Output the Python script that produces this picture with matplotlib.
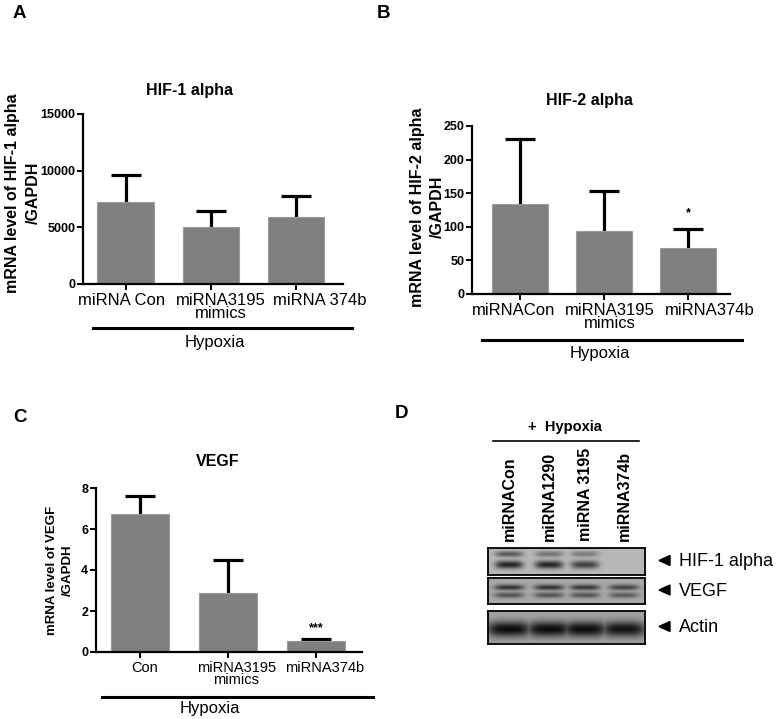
import numpy as np
import matplotlib
matplotlib.use("Agg")
import matplotlib.pyplot as plt
import matplotlib.transforms as mtransforms
from matplotlib.lines import Line2D
from matplotlib.patches import Polygon

plt.rcParams['font.family'] = ['Liberation Sans', 'DejaVu Sans']

W, H = 777, 719

# ---- data ----
hif1_labels = ["miRNA Con", "miRNA3195\nmimics", "miRNA 374b"]
hif1_means = [7200, 5000, 5900]
hif1_err = [2450, 1400, 1850]
hif1_ticks = [0, 5000, 10000, 15000]

hif2_labels = ["miRNACon", "miRNA3195\nmimics", "miRNA374b"]
hif2_means = [134, 94, 68]
hif2_err = [96, 59, 29]
hif2_ticks = [0, 50, 100, 150, 200, 250]
hif2_sig = ["", "", "*"]

vegf_labels = ["Con", "miRNA3195\nmimics", "miRNA374b"]
vegf_means = [6.75, 2.88, 0.52]
vegf_err = [0.85, 1.62, 0.11]
vegf_ticks = [0, 2, 4, 6, 8]
vegf_sig = ["", "", "***"]

lanes = ["miRNACon", "miRNA1290", "miRNA 3195", "miRNA374b"]
blot_names = ["HIF-1 alpha", "VEGF", "Actin"]
# band intensities per lane (0 = none, 1 = saturated)
hif1_bands = {"upper": [0.55, 0.40, 0.35, 0.0], "lower": [0.85, 0.85, 0.70, 0.0]}
vegf_bands = {"upper": [0.75, 0.75, 0.72, 0.65], "lower": [0.55, 0.55, 0.55, 0.50]}
actin_bands = {"main": [1.0, 1.0, 1.0, 0.95]}


def fbox(x0, y0, x1, y1):
    # pixel box (top-left origin) -> figure fraction rect
    return [x0 / W, 1 - y1 / H, (x1 - x0) / W, (y1 - y0) / H]


def fp(x, y):
    return x / W, 1 - y / H


fig = plt.figure(figsize=(W / 100, H / 100), dpi=100)


def bar_panel(rect, xlim, labels, lab_shift, xfs, means, errs, ticks, title, title_xy,
              ylabel, ylfs, ylab_xy, ylsp, sig=None, sig_off=0.0):
    ax = fig.add_axes(fbox(*rect))
    x = np.arange(len(means))
    ax.bar(x, means, width=0.66, color="#808080", edgecolor="#9a9a9a", linewidth=0.8, zorder=2)
    # symmetric bars drawn behind the columns: only the upper half shows
    ax.errorbar(x, means, yerr=errs, fmt="none", ecolor="black",
                elinewidth=2.3, capsize=11, capthick=2.3, zorder=1)
    if sig:
        for xi, m, e, s in zip(x, means, errs, sig):
            if s:
                ax.text(xi, m + e + sig_off, s, ha="center", va="center",
                        fontsize=9, fontweight="bold")
    ax.set_xlim(*xlim)
    ax.set_ylim(ticks[0], ticks[-1])
    ax.set_yticks(ticks)
    ax.set_yticklabels([str(t) for t in ticks], fontsize=9, fontweight="bold")
    ax.set_xticks(x)
    ax.set_xticklabels([])
    # category labels sit a little off their ticks, as in the original figure
    for xi, lab, dx in zip(x, labels, lab_shift):
        tr = mtransforms.offset_copy(ax.get_xaxis_transform(), fig=fig, x=dx, y=-9,
                                     units="dots")
        ax.text(xi, 0, lab, transform=tr, ha="center", va="top", fontsize=xfs,
                linespacing=0.85, clip_on=False)
    ax.spines["top"].set_visible(False)
    ax.spines["right"].set_visible(False)
    ax.spines["left"].set_linewidth(1.6)
    ax.spines["bottom"].set_linewidth(1.6)
    ax.tick_params(axis="y", direction="out", length=4, width=1.4, pad=1.5)
    ax.tick_params(axis="x", direction="out", length=4, width=1.4, pad=3)
    fig.text(*fp(*title_xy), title, ha="center", va="center", fontsize=11.5, fontweight="bold")
    fig.text(*fp(*ylab_xy), ylabel, rotation=90, ha="center", va="center",
             multialignment="center", fontsize=ylfs, fontweight="bold", linespacing=ylsp)
    return ax


bar_panel((83, 114, 343, 284), (-0.5, 2.55), hif1_labels, [-4, 10, 24], 12,
          hif1_means, hif1_err, hif1_ticks, "HIF-1 alpha", (190, 90),
          "mRNA level of HIF-1 alpha\n/GAPDH", 11.5, (23, 193), 1.5)
bar_panel((472, 126, 730, 294), (-0.57, 2.5), hif2_labels, [-6, 6, 22], 12,
          hif2_means, hif2_err, hif2_ticks, "HIF-2 alpha", (589, 101),
          "mRNA level of HIF-2 alpha\n/GAPDH", 11.5, (427, 207), 1.4, hif2_sig, 24)
bar_panel((96, 488, 362, 652), (-0.5, 2.52), vegf_labels, [5, 8, 8], 10.5,
          vegf_means, vegf_err, vegf_ticks, "VEGF", (218, 462),
          "mRNA level of VEGF\n/GAPDH", 9.5, (60, 570), 1.35, vegf_sig, 0.55)

# Hypoxia brackets
for (x0, x1, yl, xt, yt) in [(93, 352, 328, 215, 343), (482, 742, 340, 600, 354),
                              (102, 373, 697, 210, 708)]:
    fig.add_artist(Line2D([x0 / W, x1 / W], [1 - yl / H, 1 - yl / H], color="black",
                          lw=2.2, transform=fig.transFigure))
    fig.text(*fp(xt, yt), "Hypoxia", ha="center", va="center", fontsize=12)

# panel letters
for lab, (px, py) in zip("ABCD", [(19, 14), (384, 14), (20, 417), (401, 414)]):
    fig.text(*fp(px, py), lab, ha="center", va="center", fontsize=13.5, fontweight="bold")

# ---- panel D: western blot ----
fig.text(*fp(565, 427), "+  Hypoxia", ha="center", va="center", fontsize=10.5,
         fontweight="bold")
fig.add_artist(Line2D([493 / W, 639 / W], [1 - 441 / H, 1 - 441 / H], color="black",
                      lw=1.2, transform=fig.transFigure))
lane_x = [509, 549, 585, 624]
for lx, name in zip(lane_x, lanes):
    fig.text(*fp(lx, 541), name, rotation=90, ha="center", va="bottom",
             fontsize=11.5, fontweight="bold")

blot_x0, blot_x1 = 488, 645
blot_rows = [(548, 575, hif1_bands, [0.22, 0.62], [0.11, 0.15], 14, 0.72),
             (578, 604, vegf_bands, [0.36, 0.66], [0.11, 0.11], 15, 0.66),
             (611, 644, actin_bands, [0.55], [0.24], 22, 0.64)]


def make_blot(bands, ypos, ysig, halfw, bg, nrow=60, ncol=300):
    img = np.full((nrow, ncol), 0.0)
    yy = np.linspace(0, 1, nrow)[:, None]
    xx = np.linspace(blot_x0, blot_x1, ncol)[None, :]
    for (key, vals), yc, ys in zip(bands.items(), ypos, ysig):
        for lx, v in zip(lane_x, vals):
            xprof = np.exp(-((xx - lx) / halfw) ** 4)
            yprof = np.exp(-((yy - yc) / ys) ** 2)
            img = np.maximum(img, v * xprof * yprof)
    return bg - (bg - 0.05) * np.clip(img, 0, 1)


for (y0, y1, bands, ypos, ysig, hw, bg), name in zip(blot_rows, blot_names):
    bax = fig.add_axes(fbox(blot_x0, y0, blot_x1, y1))
    bax.imshow(make_blot(bands, ypos, ysig, hw, bg), cmap="gray", vmin=0, vmax=1,
               aspect="auto", interpolation="bilinear")
    bax.set_xticks([])
    bax.set_yticks([])
    for sp in bax.spines.values():
        sp.set_linewidth(1.3)
    yc = (y0 + y1) / 2
    tri = Polygon([fp(659, yc - 1), fp(670, yc - 6), fp(670, yc + 4)], closed=True,
                  color="black", transform=fig.transFigure)
    fig.add_artist(tri)
    fig.text(*fp(679, yc), name, ha="left", va="center", fontsize=13)

fig.savefig("out.png", dpi=100)
